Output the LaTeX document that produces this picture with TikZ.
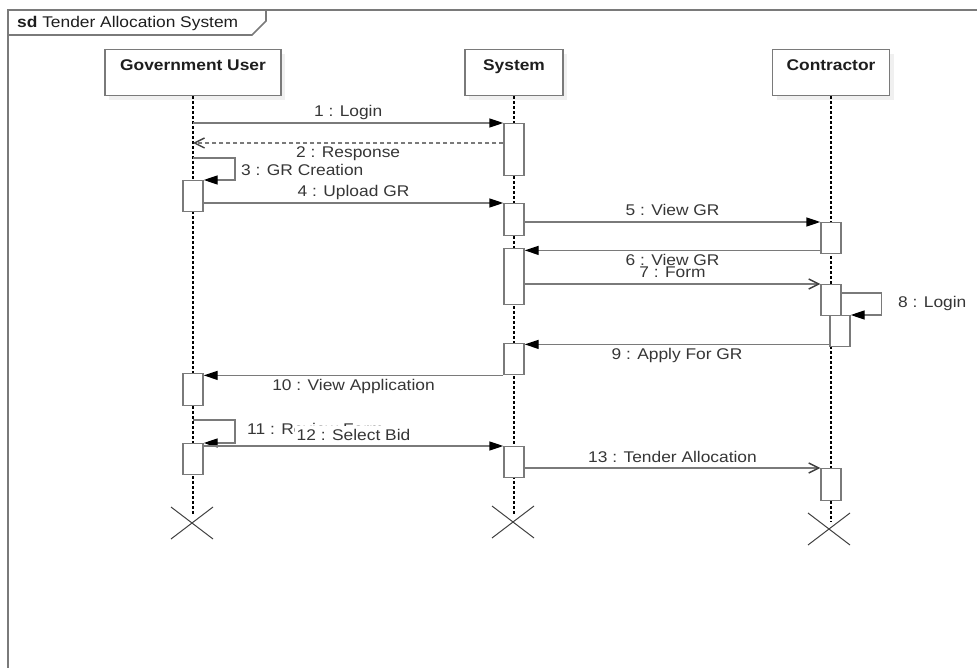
\documentclass[tikz,border=0pt]{standalone}
\usepackage{fontspec}
\setmainfont[FakeStretch=1.12]{Liberation Sans}
\usetikzlibrary{arrows.meta,shadows}
\definecolor{lg}{HTML}{7A7A7A}
\definecolor{tg}{HTML}{363636}
\definecolor{hk}{HTML}{1E1E1E}
\begin{document}
\begin{tikzpicture}[x=1pt,y=-1pt,
  every node/.style={font=\fontsize{15.5}{18}\selectfont},
  frame/.style={draw=lg, line width=1.6pt},
  head/.style={draw=lg, line width=1.4pt, fill=white, minimum height=46pt, inner sep=0pt,
    anchor=north, text=hk, font=\bfseries\fontsize{15.5}{18}\selectfont,
    text height=12pt, text depth=16pt,
    drop shadow={shadow xshift=4pt, shadow yshift=-4pt, fill=black!6, opacity=1}},
  bar/.style={draw=lg, line width=1.4pt, fill=white, minimum width=20pt, inner sep=0pt, anchor=north},
  life/.style={draw=black, line width=1.1pt, dash pattern=on 2.5pt off 2.5pt},
  msg/.style={draw=lg, line width=1.4pt, -{Triangle[length=14pt,width=9pt,color=black]}},
  opn/.style={draw=lg, line width=1.4pt, -{Straight Barb[length=10pt,width=10pt,color=black!75]}},
  ret/.style={opn, dash pattern=on 4pt off 3pt},
  lab/.style={text=tg, inner sep=0pt},
  labA/.style={lab, midway, anchor=base, yshift=6pt},
  labB/.style={lab, midway, anchor=base, yshift=-15pt},
  xmark/.style={draw=black!75, line width=1pt}
]
\useasboundingbox (0,0) rectangle (977,668);

% frame
\draw[frame] (8,668) -- (8,10) -- (977,10);
\draw[frame] (8,35) -- (252,35) -- (266,21) -- (266,10);
\node[anchor=base west, inner sep=0pt, text=hk] (title) at (17,28) {\textbf{sd}\ Tender Allocation System};

% lifeline heads
\node[head, minimum width=176pt] (gu) at (193,49) {Government User};
\node[head, minimum width=98pt] (sy) at (514,49) {System};
\node[head, minimum width=117pt] (co) at (831,49) {Contractor};

% destruction points
\coordinate (gx) at (192,523);
\coordinate (sx) at (513,522);
\coordinate (cx) at (829,529);
\coordinate (gend) at (193,516);
\coordinate (send) at (514,516);
\coordinate (cend) at (831,522);

% lifelines
\draw[life] (gu.south) -- (gend);
\draw[life] (sy.south) -- (send);
\draw[life] (co.south) -- (cend);

% activation bars
\node[bar, minimum height=31pt] (gb1) at (193,180) {};
\node[bar, minimum height=32pt] (gb2) at (193,373) {};
\node[bar, minimum height=31pt] (gb3) at (193,443) {};
\node[bar, minimum height=52pt] (sb1) at (514,123) {};
\node[bar, minimum height=32pt] (sb2) at (514,203) {};
\node[bar, minimum height=56pt] (sb3) at (514,248) {};
\node[bar, minimum height=31pt] (sb4) at (514,343) {};
\node[bar, minimum height=31pt] (sb5) at (514,446) {};
\node[bar, minimum height=31pt] (cb1) at (831,222) {};
\node[bar, minimum height=31pt] (cb2) at (831,284) {};
\node[bar, minimum height=31pt] (cb3) at (840,315) {};
\node[bar, minimum height=32pt] (cb4) at (831,468) {};

% messages
\draw[msg] (sb1.north west -| gu.south) -- (sb1.north west) node[labA] {1 : Login};

\coordinate (r2) at ([yshift=-20pt]sb1.north west);
\draw[ret] (r2) -- (r2 -| gu.south) node[labB] {2 : Response};

\draw[msg] ([yshift=22pt]gb1.north) -- ++(42,0) |- (gb1.north east);
\node[lab, anchor=base west] (l3) at (241,176) {3 : GR Creation};

\draw[msg] (gb1.east |- sb2.north) -- (sb2.north west) node[labA] {4 : Upload GR};

\draw[msg] (sb2.east |- cb1.north) -- (cb1.north west) node[labA] {5 : View GR};

\coordinate (m6) at ([yshift=4pt]cb1.south west);
\draw[msg] (m6) -- (m6 -| sb3.east) node[labB] {6 : View GR};

\draw[opn] (sb3.east |- cb2.north) -- (cb2.north west) node[labA] {7 : Form};

\draw[msg] ([yshift=-9pt]cb2.north east) -- ++(40,0) |- (cb3.north east);
\node[lab, anchor=base west] (l8) at (898,308) {8 : Login};

\coordinate (m9) at ([yshift=3pt]cb3.south west);
\draw[msg] (m9) -- (m9 -| sb4.east) node[labB] {9 : Apply For GR};

\draw[msg] (sb4.south west) -- (sb4.south west -| gb2.east) node[labB] {10 : View Application};

\draw[msg] ([yshift=23pt]gb3.north) -- ++(42,0) |- (gb3.north east);
\node[lab, anchor=base west] (l11) at (247,434) {11 : Review Form};

\draw[msg] (gb3.east |- sb5.north) -- (sb5.north west) node[labA, fill=white, inner xsep=2pt, inner ysep=2.5pt] {12 : Select Bid};

\draw[opn] (sb5.east |- cb4.north) -- (cb4.north west) node[labA] {13 : Tender Allocation};

% destruction marks
\foreach \p in {gx,sx,cx}{
  \draw[xmark] ([shift={(-21,-16)}]\p) -- ([shift={(21,16)}]\p);
  \draw[xmark] ([shift={(-21,16)}]\p) -- ([shift={(21,-16)}]\p);
}
\end{tikzpicture}
\end{document}
